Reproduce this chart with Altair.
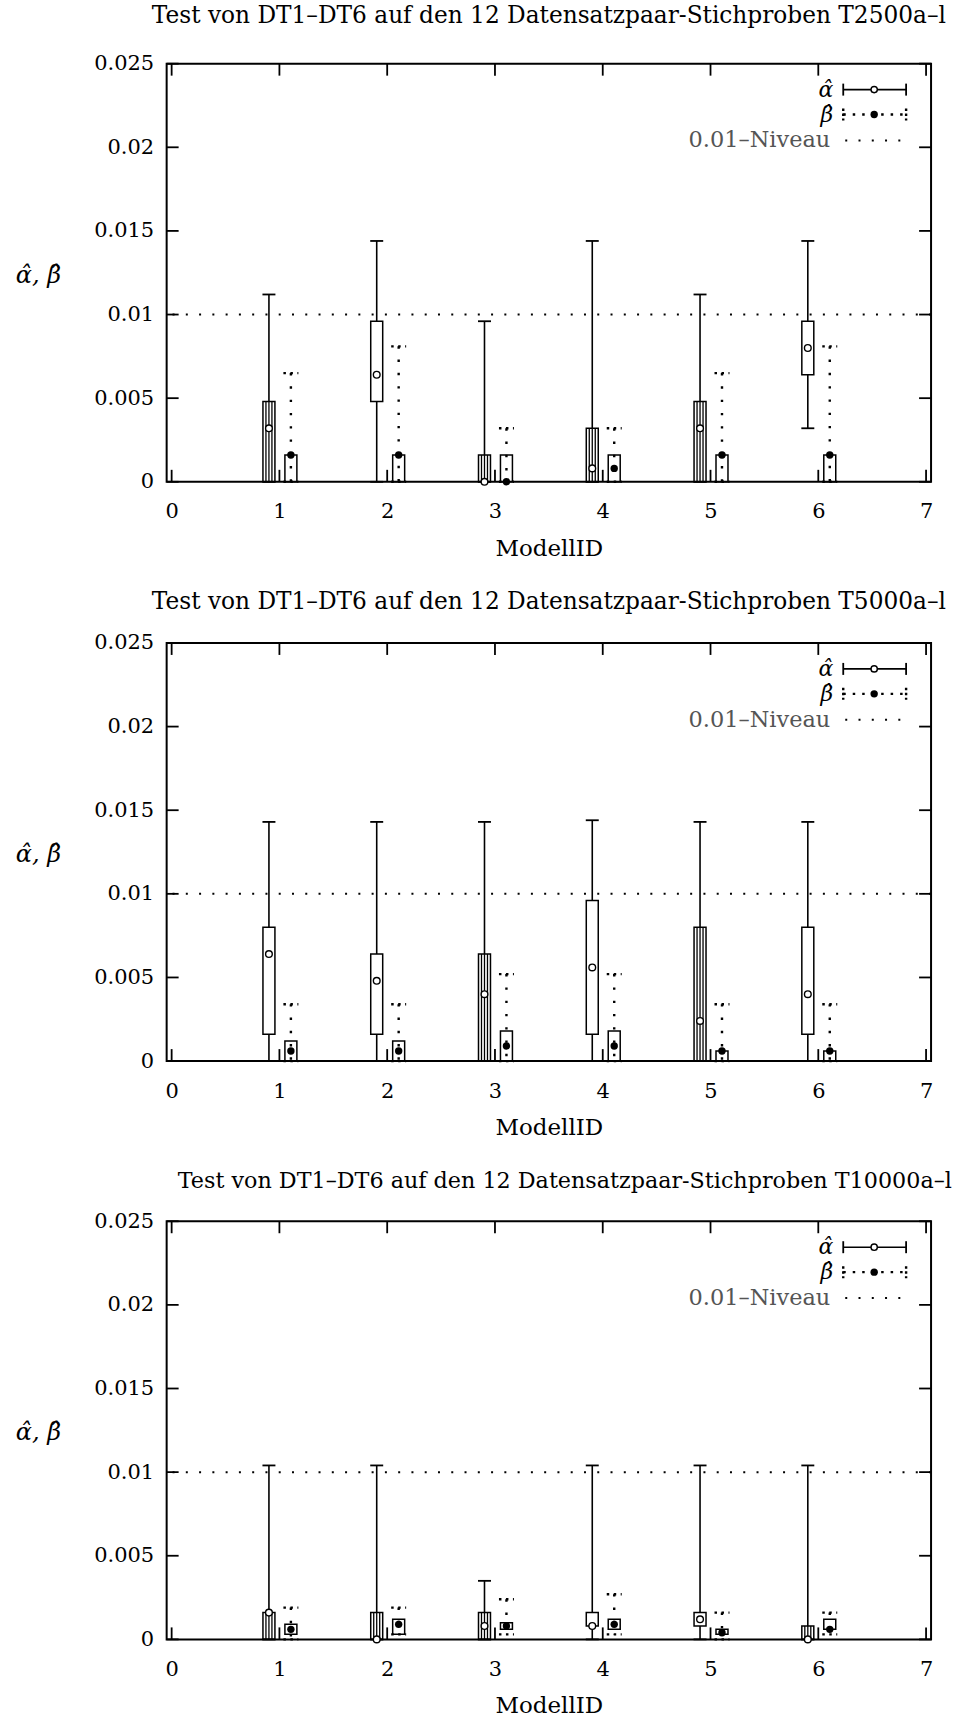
import altair as alt
import pandas as pd

models = [1, 2, 3, 4, 5, 6]

titles = [
    "Test von DT1–DT6 auf den 12 Datensatzpaar-Stichproben T2500a–l",
    "Test von DT1–DT6 auf den 12 Datensatzpaar-Stichproben T5000a–l",
    "Test von DT1–DT6 auf den 12 Datensatzpaar-Stichproben T10000a–l",
]

# ---- Panel 1: T2500 ----
p1_alpha_min = [0, 0, 0, 0, 0, 0.0032]
p1_alpha_q1 = [0, 0.0048, 0, 0, 0, 0.0064]
p1_alpha_med = [0.0032, 0.0064, 0, 0.0008, 0.0032, 0.008]
p1_alpha_q3 = [0.0048, 0.0096, 0.0016, 0.0032, 0.0048, 0.0096]
p1_alpha_max = [0.0112, 0.0144, 0.0096, 0.0144, 0.0112, 0.0144]
p1_beta_min = [0, 0, 0, 0, 0, 0]
p1_beta_q1 = [0, 0, 0, 0, 0, 0]
p1_beta_med = [0.0016, 0.0016, 0, 0.0008, 0.0016, 0.0016]
p1_beta_q3 = [0.0016, 0.0016, 0.0016, 0.0016, 0.0016, 0.0016]
p1_beta_max = [0.0065, 0.0081, 0.0032, 0.0032, 0.0065, 0.0081]

# ---- Panel 2: T5000 ----
p2_alpha_min = [0, 0, 0, 0, 0, 0]
p2_alpha_q1 = [0.0016, 0.0016, 0, 0.0016, 0, 0.0016]
p2_alpha_med = [0.0064, 0.0048, 0.004, 0.0056, 0.0024, 0.004]
p2_alpha_q3 = [0.008, 0.0064, 0.0064, 0.0096, 0.008, 0.008]
p2_alpha_max = [0.0143, 0.0143, 0.0143, 0.0144, 0.0143, 0.0143]
p2_beta_min = [0, 0, 0, 0, 0, 0]
p2_beta_q1 = [0, 0, 0, 0, 0, 0]
p2_beta_med = [0.0006, 0.0006, 0.0009, 0.0009, 0.0006, 0.0006]
p2_beta_q3 = [0.0012, 0.0012, 0.0018, 0.0018, 0.0006, 0.0006]
p2_beta_max = [0.0034, 0.0034, 0.0052, 0.0052, 0.0034, 0.0034]

# ---- Panel 3: T10000 ----
p3_alpha_min = [0, 0, 0, 0, 0, 0]
p3_alpha_q1 = [0, 0, 0, 0.0008, 0.0008, 0]
p3_alpha_med = [0.0016, 0, 0.0008, 0.0008, 0.0012, 0]
p3_alpha_q3 = [0.0016, 0.0016, 0.0016, 0.0016, 0.0016, 0.0008]
p3_alpha_max = [0.0104, 0.0104, 0.0035, 0.0104, 0.0104, 0.0104]
p3_beta_min = [0, 0.0003, 0.0003, 0.0003, 0, 0.0003]
p3_beta_q1 = [0.0003, 0.0003, 0.0006, 0.0006, 0.0003, 0.0006]
p3_beta_med = [0.0006, 0.0009, 0.0008, 0.0009, 0.0004, 0.0006]
p3_beta_q3 = [0.0009, 0.0012, 0.001, 0.0012, 0.0006, 0.0012]
p3_beta_max = [0.0019, 0.0019, 0.0024, 0.0027, 0.0016, 0.0016]

x_ticks = [0, 1, 2, 3, 4, 5, 6, 7]
y_ticks = [0, 0.005, 0.01, 0.015, 0.02, 0.025]
level = [0.01]

legend_labels = ["α̂", "β̂", "0.01–Niveau"]

W, H = 766, 419
FONT = "DejaVu Serif"
A_OFF, B_OFF = -10.5, 11.5

XS = alt.Scale(domain=[0, 7], nice=False, zero=False)
YS = alt.Scale(domain=[0, 0.025], nice=False)
AXX = alt.Axis(values=x_ticks, title="ModellID", labelFontSize=21, labelFont=FONT,
               labelPadding=19, titleFont=FONT, titleFontSize=23, titleFontWeight="normal",
               titlePadding=15.7, labelColor="black", titleColor="black",
               domain=False, ticks=False, grid=False)
AXY = alt.Axis(values=y_ticks, format="~g", title="α̂, β̂", labelFontSize=21, labelFont=FONT,
               labelPadding=13, titleAngle=0, titleAlign="center", titleBaseline="middle",
               titleX=-129, titleY=212, titleFont=FONT, titleFontStyle="italic",
               titleFontSize=24, titleFontWeight="normal", labelColor="black",
               titleColor="black", domain=False, ticks=False, grid=False)


def X(f):
    return alt.X(f + ":Q", scale=XS, axis=AXX)


def Y(f):
    return alt.Y(f + ":Q", scale=YS, axis=AXY)


def panel(title, title_dx, title_size, title_off,
          amin, aq1, amed, aq3, amax, bmin, bq1, bmed, bq3, bmax):
    df = pd.DataFrame({
        "model": models, "amin": amin, "aq1": aq1, "amed": amed, "aq3": aq3, "amax": amax,
        "bmin": bmin, "bq1": bq1, "bmed": bmed, "bq3": bq3, "bmax": bmax,
    })
    base = alt.Chart(df)
    Xm = X("model")

    # 0.01 level
    lev = alt.Chart(pd.DataFrame({"lv": level})).mark_rule(
        color="black", strokeWidth=2, strokeDash=[2, 11.3]
    ).encode(y=Y("lv"))

    # alpha whiskers / box / median
    a_low = base.mark_rule(color="black", strokeWidth=1.6, xOffset=A_OFF).encode(
        x=Xm, y=Y("amin"), y2="aq1")
    a_high = base.mark_rule(color="black", strokeWidth=1.6, xOffset=A_OFF).encode(
        x=Xm, y=Y("aq3"), y2="amax")
    a_cap_hi = base.mark_rule(color="black", strokeWidth=1.8, xOffset=A_OFF - 6.5,
                              x2Offset=A_OFF + 6.5).encode(x=Xm, x2="model", y=Y("amax"))
    a_cap_lo = base.mark_rule(color="black", strokeWidth=1.8, xOffset=A_OFF - 6.5,
                              x2Offset=A_OFF + 6.5).encode(x=Xm, x2="model", y=Y("amin"))
    # boxes starting at zero show hatch-like inner strokes in the original
    a_inner = []
    for off in (-3, 0, 3):
        a_inner.append(base.transform_filter("datum.aq1 == 0").mark_rule(
            color="black", strokeWidth=1.3, xOffset=A_OFF + off).encode(
            x=Xm, y=Y("aq1"), y2="aq3"))
    a_box = base.mark_bar(size=12, xOffset=A_OFF, fillOpacity=0, stroke="black",
                          strokeWidth=1.5).encode(x=Xm, y=Y("aq1"), y2="aq3")
    a_med = base.mark_point(shape="circle", filled=True, fill="white", stroke="black",
                            size=45, strokeWidth=1.4, opacity=1, xOffset=A_OFF).encode(
        x=Xm, y=Y("amed"))

    # beta
    b_whisk = base.mark_rule(color="black", strokeWidth=2.4, strokeDash=[2.4, 10.9],
                             xOffset=B_OFF).encode(x=Xm, y=Y("bmax"), y2="bmin")
    b_cap_hi = base.mark_rule(color="black", strokeWidth=2.4, strokeDash=[2.5, 4.5],
                              xOffset=B_OFF - 7.5, x2Offset=B_OFF + 7.5).encode(
        x=Xm, x2="model", y=Y("bmax"))
    b_cap_lo = base.mark_rule(color="black", strokeWidth=2.4, strokeDash=[2.5, 4.5],
                              xOffset=B_OFF - 7.5, x2Offset=B_OFF + 7.5).encode(
        x=Xm, x2="model", y=Y("bmin"))
    b_box = base.mark_bar(size=12, xOffset=B_OFF, fillOpacity=0, stroke="black",
                          strokeWidth=1.5).encode(x=Xm, y=Y("bq1"), y2="bq3")
    b_med = base.mark_point(shape="circle", filled=True, size=55, color="black",
                            opacity=1, xOffset=B_OFF).encode(x=Xm, y=Y("bmed"))

    # inward ticks (gnuplot style)
    yt = alt.Chart(pd.DataFrame({"v": y_ticks}))
    xt = alt.Chart(pd.DataFrame({"v": x_ticks}))
    ts = dict(color="black", strokeWidth=1.8)
    yt_l = yt.mark_rule(**ts).encode(y=Y("v"), x=alt.value(0), x2=alt.value(12))
    yt_r = yt.mark_rule(**ts).encode(y=Y("v"), x=alt.value(W - 12), x2=alt.value(W))
    xt_b = xt.mark_rule(**ts).encode(x=X("v"), y=alt.value(H), y2=alt.value(H - 12))
    xt_t = xt.mark_rule(**ts).encode(x=X("v"), y=alt.value(0), y2=alt.value(12))

    # legend (top right, inside)
    one = alt.Chart(pd.DataFrame({"k": [0]}))
    lg_txt = []
    for i, (lab, yy) in enumerate(zip(legend_labels, [26, 51, 77])):
        lg_txt.append(one.mark_text(
            text=lab, align="right", baseline="middle", font=FONT,
            fontSize=22 if i < 2 else 22.5, fontStyle="italic" if i < 2 else "normal",
            color="black" if i < 2 else "#555"
        ).encode(x=alt.value(668 if i < 2 else 665), y=alt.value(yy)))
    lg_a_line = one.mark_rule(color="black", strokeWidth=1.6).encode(
        x=alt.value(678), x2=alt.value(741), y=alt.value(26))
    lg_a_c1 = one.mark_rule(color="black", strokeWidth=1.8).encode(
        x=alt.value(678), y=alt.value(20), y2=alt.value(32))
    lg_a_c2 = one.mark_rule(color="black", strokeWidth=1.8).encode(
        x=alt.value(741), y=alt.value(20), y2=alt.value(32))
    lg_a_pt = one.mark_point(shape="circle", filled=True, fill="white", stroke="black",
                             size=40, strokeWidth=1.4, opacity=1).encode(
        x=alt.value(709), y=alt.value(26))
    lg_b_line = one.mark_rule(color="black", strokeWidth=2.4, strokeDash=[2.5, 7]).encode(
        x=alt.value(678), x2=alt.value(741), y=alt.value(51))
    lg_b_c1 = one.mark_rule(color="black", strokeWidth=2.4, strokeDash=[2.5, 2.5]).encode(
        x=alt.value(678), y=alt.value(45), y2=alt.value(57))
    lg_b_c2 = one.mark_rule(color="black", strokeWidth=2.4, strokeDash=[2.5, 2.5]).encode(
        x=alt.value(741), y=alt.value(45), y2=alt.value(57))
    lg_b_pt = one.mark_point(shape="circle", filled=True, size=55, color="black",
                             opacity=1).encode(x=alt.value(709), y=alt.value(51))
    lg_n_line = one.mark_rule(color="black", strokeWidth=2, strokeDash=[2, 11.3]).encode(
        x=alt.value(680), x2=alt.value(745), y=alt.value(77))

    layers = [lev, a_low, a_high, a_cap_hi, a_cap_lo] + a_inner + [a_box, a_med,
              b_whisk, b_cap_hi, b_cap_lo, b_box, b_med,
              yt_l, yt_r, xt_b, xt_t] + lg_txt + [
              lg_a_line, lg_a_c1, lg_a_c2, lg_a_pt, lg_b_line, lg_b_c1, lg_b_c2,
              lg_b_pt, lg_n_line]
    return alt.layer(*layers).properties(
        width=W, height=H,
        title=alt.TitleParams(title, anchor="middle", frame="group", font=FONT,
                              fontSize=title_size, fontWeight="normal", color="black",
                              offset=title_off, dx=title_dx),
    )


c1 = panel(titles[0], 0, 23.3, 24,
           p1_alpha_min, p1_alpha_q1, p1_alpha_med, p1_alpha_q3, p1_alpha_max,
           p1_beta_min, p1_beta_q1, p1_beta_med, p1_beta_q3, p1_beta_max)
c2 = panel(titles[1], 0, 23.3, 17.5,
           p2_alpha_min, p2_alpha_q1, p2_alpha_med, p2_alpha_q3, p2_alpha_max,
           p2_beta_min, p2_beta_q1, p2_beta_med, p2_beta_q3, p2_beta_max)
c3 = panel(titles[2], 16, 22.3, 18.5,
           p3_alpha_min, p3_alpha_q1, p3_alpha_med, p3_alpha_q3, p3_alpha_max,
           p3_beta_min, p3_beta_q1, p3_beta_med, p3_beta_q3, p3_beta_max)

chart = alt.vconcat(c1, c2, c3, spacing=27.5).properties(
    padding={"left": 14, "top": 1, "right": 5, "bottom": 5},
    background="white",
).configure_view(stroke="black", strokeWidth=2)

chart.save("out.html", embed_options={"renderer": "svg", "actions": False})
